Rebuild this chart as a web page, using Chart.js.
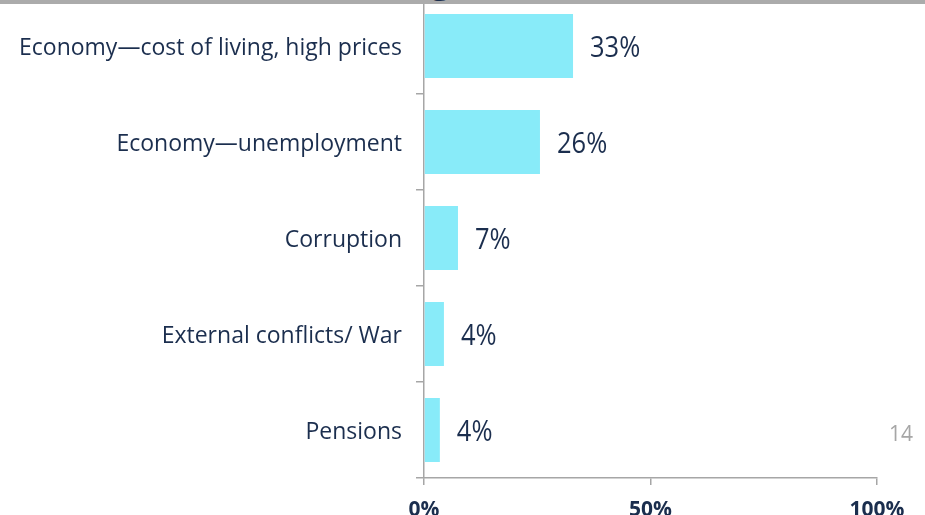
<!DOCTYPE html>
<html>
<head>
<meta charset="utf-8">
<script src="https://cdn.jsdelivr.net/npm/chart.js@4/dist/chart.umd.min.js"></script>
<style>
  html, body { margin: 0; padding: 0; background: #fff; width: 925px; height: 515px; overflow: hidden; position: relative; }
  #wrap { position: absolute; left: 0; top: -10px; width: 925px; height: 525px; }
  #topbar { position: absolute; left: 0; top: 0; width: 925px; height: 4px; background: #ABABAB; z-index: 2; }
  #titleclip { position: absolute; left: 429px; top: 0; width: 22px; height: 2px; overflow: hidden; z-index: 3; }
  #titleclip span { position: absolute; left: 1px; top: -44px; font-family: "Open Sans", sans-serif; font-size: 40px; line-height: 40px; color: #1B2E4E; }
  #page { position: absolute; left: 889px; top: 421px; font-family: "Open Sans", sans-serif; font-size: 21px; line-height: 24px; color: #A6A6A6; }
</style>
</head>
<body>
<div id="topbar"></div>
<div id="titleclip"><span>g</span></div>
<div id="wrap"><canvas id="c" width="925" height="525"></canvas></div>
<div id="page">14</div>
<script>
const categories = [
  "Economy\u2014cost of living, high prices",
  "Economy\u2014unemployment",
  "Corruption",
  "External conflicts/ War",
  "Pensions"
];
const values = [33, 26, 7, 4, 4];
const barLengths = [32.9, 25.6, 7.5, 4.4, 3.5];
const xTicks = [0, 50, 100];

const navy = "#1B2E4E";
const axisGray = "#A6A6A6";

const valueLabels = {
  id: "valueLabels",
  afterDatasetsDraw(chart) {
    const ctx = chart.ctx;
    const meta = chart.getDatasetMeta(0);
    meta.data.forEach((bar, i) => {
      ctx.save();
      ctx.fillStyle = navy;
      ctx.font = '30px "Open Sans", sans-serif';
      ctx.textBaseline = "middle";
      ctx.textAlign = "left";
      ctx.translate(bar.x + 17, bar.y + 2);
      ctx.scale(0.85, 1);
      ctx.fillText(values[i] + "%", 0, 0);
      ctx.restore();
    });
  }
};

new Chart(document.getElementById("c"), {
  type: "bar",
  data: {
    labels: categories,
    datasets: [{
      data: barLengths,
      backgroundColor: "#88EBF9",
      borderWidth: 0,
      barPercentage: 0.667,
      categoryPercentage: 1
    }]
  },
  options: {
    indexAxis: "y",
    responsive: false,
    animation: false,
    events: [],
    layout: { padding: { top: 8, right: 48, left: 0, bottom: 0 } },
    plugins: { legend: { display: false }, tooltip: { enabled: false } },
    scales: {
      x: {
        min: 0, max: 100,
        afterBuildTicks(scale) { scale.ticks = xTicks.map(v => ({ value: v })); },
        afterFit(scale) { scale.height = 37; },
        border: { display: true, color: axisGray, width: 1.5 },
        grid: { drawOnChartArea: false, drawTicks: true, tickLength: 7, color: axisGray, lineWidth: 1.5 },
        ticks: {
          padding: 12,
          color: navy,
          font: { family: "Open Sans", size: 21, weight: "bold" },
          callback: (v) => v + "%",
          maxRotation: 0
        }
      },
      y: {
        afterFit(scale) { scale.width = 424; scale.paddingTop = 0; scale.paddingBottom = 0; },
        border: { display: true, color: axisGray, width: 1.5 },
        grid: { drawOnChartArea: false, drawTicks: true, tickLength: 8, color: axisGray, lineWidth: 1.5, offset: true },
        ticks: {
          padding: 14,
          labelOffset: 2,
          color: navy,
          font: { family: "Open Sans", size: 23 }
        }
      }
    }
  },
  plugins: [valueLabels]
});
</script>
</body>
</html>
